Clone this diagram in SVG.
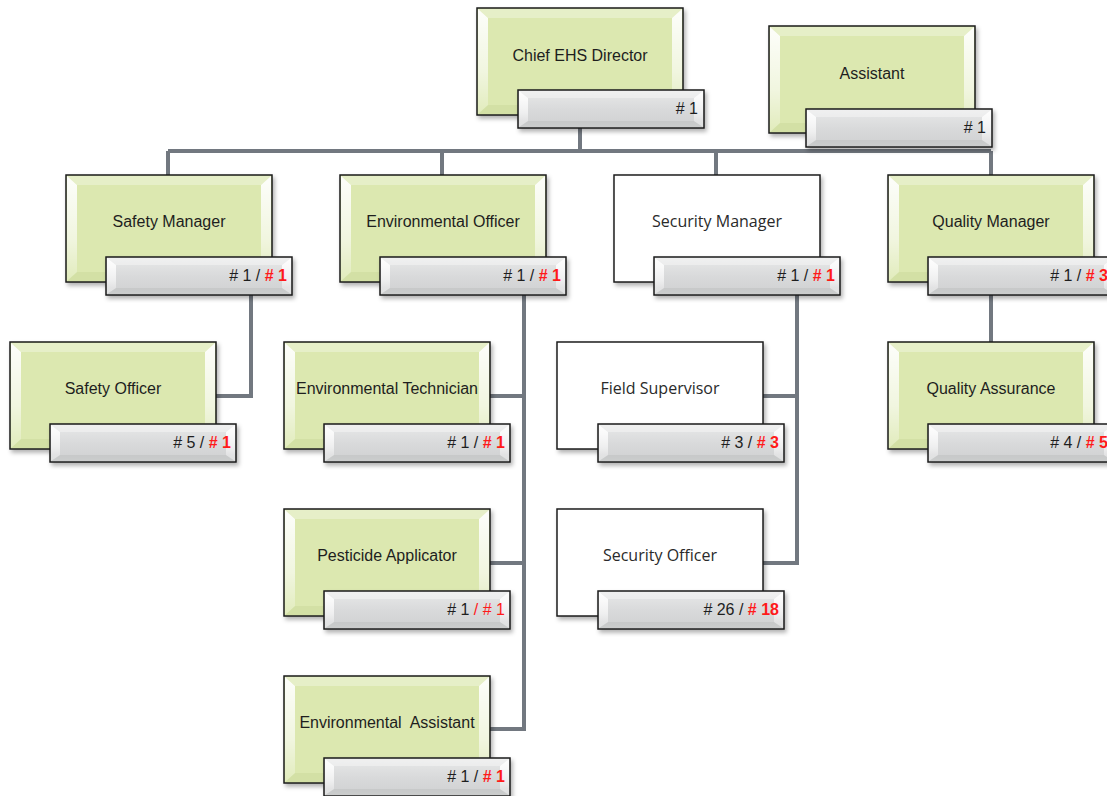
<svg xmlns="http://www.w3.org/2000/svg" xmlns:xlink="http://www.w3.org/1999/xlink" width="1107" height="796" viewBox="0 0 1107 796">
<defs>
<style>
.lbl{font-family:"Liberation Sans",Arial,sans-serif;font-size:16px;fill:#1e1e1e;text-anchor:middle}
.lblw{font-family:"Open Sans","Liberation Sans",sans-serif;font-size:16px;fill:#2a2a2a;text-anchor:middle}
.num{font-family:"Liberation Sans",Arial,sans-serif;font-size:16px;fill:#1e1e1e;text-anchor:end}
.red{fill:#ff1a1a;font-weight:bold}
.redn{fill:#ff1a1a}
.conn{fill:none;stroke:#727880;stroke-width:4;stroke-linejoin:miter}
</style>
<filter id="sh" x="-10%" y="-10%" width="125%" height="130%">
<feDropShadow dx="2" dy="3" stdDeviation="2" flood-color="#000" flood-opacity="0.3"/>
</filter>
<linearGradient id="hlV" x1="0" y1="0" x2="0" y2="1">
<stop offset="0" stop-color="#fff" stop-opacity="0.95"/>
<stop offset="0.6" stop-color="#fff" stop-opacity="0.6"/>
<stop offset="1" stop-color="#fff" stop-opacity="0.15"/>
</linearGradient>
<linearGradient id="badgeFill" x1="0" y1="0" x2="0" y2="1">
<stop offset="0" stop-color="#e8e9e9"/>
<stop offset="0.5" stop-color="#d9dadb"/>
<stop offset="0.8" stop-color="#d3d4d5"/>
<stop offset="1" stop-color="#dcdddd"/>
</linearGradient>
<g id="gbox">
<rect x="0" y="0" width="206" height="107" fill="#dce8b0" stroke="#1c1c1c" stroke-width="1.5"/>
<polygon points="1,1 205,1 195,10 11,10" fill="#fff" opacity="0.3"/>
<polygon points="1,106 205,106 195,97 11,97" fill="#c8d898" opacity="0.45"/>
<polygon points="1,1 11,10 11,97 1,106" fill="url(#hlV)"/>
<polygon points="205,1 195,10 195,97 205,106" fill="url(#hlV)"/>
</g>
<g id="wbox">
<rect x="0" y="0" width="206" height="107" fill="#fff" stroke="#1c1c1c" stroke-width="1.5"/>
</g>
<g id="badge">
<rect x="0" y="0" width="186" height="38" fill="url(#badgeFill)" stroke="#1c1c1c" stroke-width="1.5"/>
<polygon points="1,1 185,1 176,8 10,8" fill="#fff" opacity="0.35"/>
<polygon points="1,37 185,37 176,31 10,31" fill="#b9babb" opacity="0.45"/>
<polygon points="1,1 10,8 10,31 1,37" fill="url(#hlV)"/>
<polygon points="185,1 176,8 176,31 185,37" fill="url(#hlV)"/>
</g>
</defs>
<rect width="1107" height="796" fill="#fff"/>

<g id="connectors">
<path class="conn" d="M580,127 V151 M168,151 H991 M168,151 V175 M442,151 V175 M716,151 V175 M991,151 V175"/>
<path class="conn" d="M251,295 V396 H216"/>
<path class="conn" d="M524,295 V729 H490 M490,396 H524 M490,563 H524"/>
<path class="conn" d="M797,295 V563 H763 M763,396 H797"/>
<path class="conn" d="M991,295 V342"/>
</g>

<g id="chief">
<use xlink:href="#gbox" x="477" y="8" filter="url(#sh)"/>
<text class="lbl" x="580" y="61">Chief EHS Director</text>
<use xlink:href="#badge" x="518" y="90" filter="url(#sh)"/>
<text class="num" x="698" y="114"># 1</text>
</g>

<g id="assistant">
<use xlink:href="#gbox" x="769" y="26" filter="url(#sh)"/>
<text class="lbl" x="872" y="79">Assistant</text>
<use xlink:href="#badge" x="806" y="109" filter="url(#sh)"/>
<text class="num" x="986" y="133"># 1</text>
</g>

<g id="safety-manager">
<use xlink:href="#gbox" x="66" y="175" filter="url(#sh)"/>
<text class="lbl" x="169" y="227">Safety Manager</text>
<use xlink:href="#badge" x="106" y="257" filter="url(#sh)"/>
<text class="num" x="287" y="281"># 1 / <tspan class="red"># 1</tspan></text>
</g>

<g id="environmental-officer">
<use xlink:href="#gbox" x="340" y="175" filter="url(#sh)"/>
<text class="lbl" x="443" y="227">Environmental Officer</text>
<use xlink:href="#badge" x="380" y="257" filter="url(#sh)"/>
<text class="num" x="561" y="281"># 1 / <tspan class="red"># 1</tspan></text>
</g>

<g id="security-manager">
<use xlink:href="#wbox" x="614" y="175" filter="url(#sh)"/>
<text class="lblw" x="717" y="227">Security Manager</text>
<use xlink:href="#badge" x="654" y="257" filter="url(#sh)"/>
<text class="num" x="835" y="281"># 1 / <tspan class="red"># 1</tspan></text>
</g>

<g id="quality-manager">
<use xlink:href="#gbox" x="888" y="175" filter="url(#sh)"/>
<text class="lbl" x="991" y="227">Quality Manager</text>
<use xlink:href="#badge" x="928" y="257" filter="url(#sh)"/>
<text class="num" x="1108" y="281"># 1 / <tspan class="red"># 3</tspan></text>
</g>

<g id="safety-officer">
<use xlink:href="#gbox" x="10" y="342" filter="url(#sh)"/>
<text class="lbl" x="113" y="394">Safety Officer</text>
<use xlink:href="#badge" x="50" y="424" filter="url(#sh)"/>
<text class="num" x="231" y="448"># 5 / <tspan class="red"># 1</tspan></text>
</g>

<g id="environmental-technician">
<use xlink:href="#gbox" x="284" y="342" filter="url(#sh)"/>
<text class="lbl" x="387" y="394">Environmental Technician</text>
<use xlink:href="#badge" x="324" y="424" filter="url(#sh)"/>
<text class="num" x="505" y="448"># 1 / <tspan class="red"># 1</tspan></text>
</g>

<g id="field-supervisor">
<use xlink:href="#wbox" x="557" y="342" filter="url(#sh)"/>
<text class="lblw" x="660" y="394">Field Supervisor</text>
<use xlink:href="#badge" x="598" y="424" filter="url(#sh)"/>
<text class="num" x="779" y="448"># 3 / <tspan class="red"># 3</tspan></text>
</g>

<g id="quality-assurance">
<use xlink:href="#gbox" x="888" y="342" filter="url(#sh)"/>
<text class="lbl" x="991" y="394">Quality Assurance</text>
<use xlink:href="#badge" x="928" y="424" filter="url(#sh)"/>
<text class="num" x="1108" y="448"># 4 / <tspan class="red"># 5</tspan></text>
</g>

<g id="pesticide-applicator">
<use xlink:href="#gbox" x="284" y="509" filter="url(#sh)"/>
<text class="lbl" x="387" y="561">Pesticide Applicator</text>
<use xlink:href="#badge" x="324" y="591" filter="url(#sh)"/>
<text class="num" x="505" y="615"># 1 <tspan class="redn">/ # 1</tspan></text>
</g>

<g id="security-officer">
<use xlink:href="#wbox" x="557" y="509" filter="url(#sh)"/>
<text class="lblw" x="660" y="561">Security Officer</text>
<use xlink:href="#badge" x="598" y="591" filter="url(#sh)"/>
<text class="num" x="779" y="615"># 26 / <tspan class="red"># 18</tspan></text>
</g>

<g id="environmental-assistant">
<use xlink:href="#gbox" x="284" y="676" filter="url(#sh)"/>
<text class="lbl" x="387" y="728" xml:space="preserve">Environmental  Assistant</text>
<use xlink:href="#badge" x="324" y="758" filter="url(#sh)"/>
<text class="num" x="505" y="782"># 1 / <tspan class="red"># 1</tspan></text>
</g>
</svg>
